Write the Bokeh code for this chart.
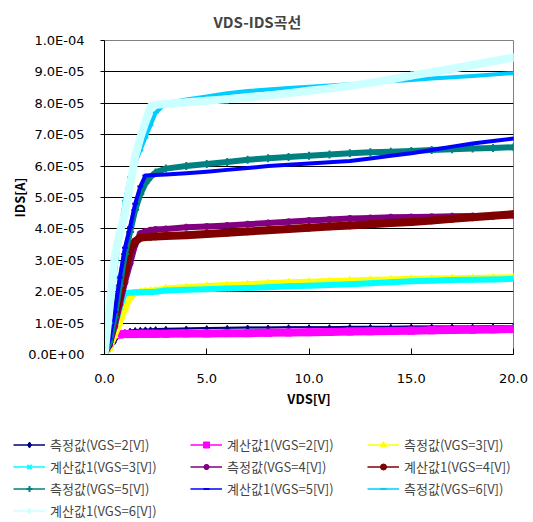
import numpy as np
from bokeh.plotting import figure
from bokeh.models import (FixedTicker, CustomJSTickFormatter, PrintfTickFormatter,
                          Legend, LegendItem, Range1d)
from bokeh.embed import file_html
from bokeh.resources import INLINE

# ---- data (VDS in V, IDS in units of 1e-5 A) ----
vds = [0, 0.25, 0.5, 0.75, 1.0, 1.25, 1.5, 1.75, 2.0, 2.25, 2.5, 3, 4, 5, 6, 7, 8,
       9, 10, 11, 12, 13, 14, 15, 16, 17, 18, 19, 20]

meas_vgs2 = [0, 0.15, 0.4, 0.6, 0.72, 0.76, 0.78, 0.79, 0.8, 0.8, 0.81, 0.82, 0.83, 0.84,
             0.85, 0.86, 0.86, 0.87, 0.87, 0.87, 0.88, 0.88, 0.88, 0.89, 0.89, 0.89, 0.89, 0.9, 0.9]
calc_vgs2 = [0.1, 0.35, 0.62, 0.64, 0.65, 0.65, 0.65, 0.66, 0.66, 0.66, 0.66, 0.66, 0.67, 0.67,
             0.68, 0.68, 0.69, 0.7, 0.71, 0.72, 0.73, 0.74, 0.75, 0.76, 0.77, 0.78, 0.79, 0.8, 0.81]
meas_vgs3 = [0, 0.2, 0.6, 1.0, 1.45, 1.8, 1.95, 2.0, 2.02, 2.03, 2.05, 2.1, 2.14, 2.18,
             2.21, 2.24, 2.27, 2.3, 2.32, 2.34, 2.36, 2.38, 2.39, 2.41, 2.42, 2.43, 2.44, 2.45, 2.46]
calc_vgs3 = [0, 0.35, 0.9, 1.5, 1.95, 1.97, 1.98, 1.98, 1.99, 1.99, 2.0, 2.04, 2.06, 2.08,
             2.1, 2.12, 2.14, 2.17, 2.19, 2.21, 2.24, 2.27, 2.3, 2.33, 2.35, 2.37, 2.38, 2.39, 2.41]
meas_vgs4 = [0, 0.3, 0.9, 1.6, 2.3, 2.9, 3.5, 3.85, 3.92, 3.96, 3.98, 4.0, 4.05, 4.08,
             4.11, 4.15, 4.19, 4.23, 4.27, 4.3, 4.33, 4.35, 4.37, 4.38, 4.39, 4.4, 4.41, 4.42, 4.43]
calc_vgs4 = [0.3, 0.6, 1.25, 1.9, 2.6, 3.35, 3.6, 3.72, 3.74, 3.75, 3.76, 3.77, 3.8, 3.84,
             3.88, 3.92, 3.96, 4.0, 4.04, 4.08, 4.11, 4.15, 4.19, 4.22, 4.27, 4.32, 4.37, 4.42, 4.47]
meas_vgs5 = [0, 0.4, 1.2, 2.2, 3.2, 3.9, 4.6, 5.1, 5.45, 5.65, 5.8, 5.92, 6.0, 6.07,
             6.13, 6.2, 6.25, 6.29, 6.33, 6.37, 6.41, 6.44, 6.46, 6.48, 6.51, 6.54, 6.56, 6.58, 6.6]
calc_vgs5 = [0, 0.5, 1.35, 2.45, 3.4, 4.05, 4.8, 5.35, 5.7, 5.71, 5.72, 5.73, 5.77, 5.82,
             5.88, 5.94, 6.0, 6.04, 6.08, 6.12, 6.16, 6.24, 6.33, 6.41, 6.51, 6.62, 6.72, 6.8, 6.88]
meas_vgs6 = [0, 1.0, 2.5, 3.9, 4.9, 5.65, 6.1, 6.5, 6.9, 7.3, 7.7, 8.0, 8.12, 8.22,
             8.32, 8.39, 8.44, 8.49, 8.53, 8.57, 8.61, 8.65, 8.7, 8.74, 8.79, 8.83, 8.87, 8.92, 8.96]
calc_vgs6 = [0, 1.5, 3.1, 3.9, 4.5, 5.4, 6.3, 6.9, 7.4, 7.9, 7.95, 7.98, 8.03, 8.08,
             8.13, 8.18, 8.25, 8.32, 8.4, 8.47, 8.55, 8.65, 8.76, 8.88, 8.99, 9.1, 9.22, 9.34, 9.46]

labels = ["측정값(VGS=2[V])", "계산값1(VGS=2[V])", "측정값(VGS=3[V])",
          "계산값1(VGS=3[V])", "측정값(VGS=4[V])", "계산값1(VGS=4[V])",
          "측정값(VGS=5[V])", "계산값1(VGS=5[V])", "측정값(VGS=6[V])",
          "계산값1(VGS=6[V])"]
series = [meas_vgs2, calc_vgs2, meas_vgs3, calc_vgs3, meas_vgs4, calc_vgs4,
          meas_vgs5, calc_vgs5, meas_vgs6, calc_vgs6]

x_ticks = [0, 5, 10, 15, 20]
y_ticks = [0, 1e-5, 2e-5, 3e-5, 4e-5, 5e-5, 6e-5, 7e-5, 8e-5, 9e-5, 1e-4]

# ---- styles ----
colors = ["#000080", "#FF00FF", "#FFFF00", "#00FFFF", "#800080", "#800000",
          "#008080", "#0000FF", "#00CCFF", "#CCFFFF"]
markers = ["diamond", "square", "triangle", "x", "asterisk", "circle",
           "cross", "dash", "dash", "diamond"]
sizes = [5, 7, 7, 7, 7, 7, 8, 6, 6, 8]
bands = [2, 8, 6, 6, 6, 8, 6, 4, 4, 8]

FONT = "Noto Sans CJK KR"
NUMFONT = "DejaVu Sans"

p = figure(width=533, height=420, output_backend="svg", toolbar_location=None,
           x_range=Range1d(0, 20), y_range=Range1d(0, 1e-4),
           min_border_left=104, min_border_right=20, min_border_top=39,
           min_border_bottom=66)
p.background_fill_color = "white"
p.border_fill_color = "white"
p.outline_line_color = "#808080"

p.title.text = "VDS-IDS곡선"
p.title.align = "left"
p.title.offset = 109
p.title.text_font = FONT
p.title.text_font_size = "15px"
p.title.text_font_style = "bold"
p.title.standoff = 17

# legend strip below the chart (its swatch renderers hold the same data, kept out of view)
p2 = figure(width=533, height=102, output_backend="svg", toolbar_location=None,
            x_range=Range1d(-3, -2), y_range=Range1d(-3, -2),
            x_axis_location=None, y_axis_location=None,
            min_border_left=0, min_border_right=0, min_border_top=0, min_border_bottom=0)
p2.outline_line_color = None
p2.xgrid.visible = False
p2.ygrid.visible = False
p2.border_fill_color = "white"
p2.background_fill_color = "white"

xs = np.array(vds, dtype=float)
items = []
for lab, ys, c, m, s, b in zip(labels, series, colors, markers, sizes, bands):
    y = np.array(ys, dtype=float) * 1e-5
    lw = 2 if m in ("x", "asterisk", "cross", "dash") else 1
    p.line(xs, y, line_color=c, line_width=b, line_join="round", line_cap="round")
    p.line(xs, y, line_color=c, line_width=1.5)
    p.scatter(xs, y, marker=m, size=s, line_color=c, fill_color=c, line_width=lw)
    ln = p2.line(xs, y, line_color=c, line_width=1.5)
    mk = p2.scatter(xs, y, marker=m, size=s, line_color=c, fill_color=c, line_width=lw)
    items.append(LegendItem(label=lab, renderers=[ln, mk]))

# axes
p.xaxis.ticker = FixedTicker(ticks=x_ticks)
p.xaxis.formatter = PrintfTickFormatter(format="%.1f")
p.xaxis.major_tick_in = 6
p.xaxis.major_tick_out = 0
p.xaxis.minor_tick_line_color = None
p.xaxis.axis_line_color = "black"
p.xaxis.major_tick_line_color = "black"
p.xaxis.major_label_standoff = 19
p.xaxis.axis_label = "VDS[V]"
p.xaxis.axis_label_standoff = 3

p.yaxis.ticker = FixedTicker(ticks=y_ticks)
p.yaxis.formatter = CustomJSTickFormatter(code="""
    const s = tick.toExponential(1).split('e');
    const e = parseInt(s[1]);
    const a = Math.abs(e);
    return s[0] + 'E' + (e < 0 ? '-' : '+') + (a < 10 ? '0' : '') + a;
""")
p.yaxis.major_tick_in = 0
p.yaxis.major_tick_out = 4
p.yaxis.minor_tick_line_color = None
p.yaxis.axis_line_color = "black"
p.yaxis.major_label_standoff = 16
p.yaxis.axis_label = "IDS[A]"
p.yaxis.axis_label_standoff = -4

for ax in (p.xaxis, p.yaxis):
    ax.major_label_text_font = NUMFONT
    ax.major_label_text_font_size = "13px"
    ax.major_label_text_color = "black"
    ax.axis_label_text_font = FONT
    ax.axis_label_text_font_size = "13px"
    ax.axis_label_text_font_style = "bold"
    ax.axis_label_text_color = "black"

p.xgrid.visible = False
p.ygrid.ticker = FixedTicker(ticks=y_ticks)
p.ygrid.grid_line_color = "black"
p.ygrid.grid_line_alpha = 1.0

legend = Legend(items=items, orientation="horizontal", ncols=3,
                location=(13, 2), margin=0, padding=0, spacing=3,
                glyph_width=32, glyph_height=15, label_height=15,
                label_width=137, label_standoff=5,
                label_text_font=FONT, label_text_font_size="13px",
                border_line_alpha=0, background_fill_alpha=0)
p2.add_layout(legend, "center")

open("out.html", "w").write(file_html([p, p2], INLINE))
